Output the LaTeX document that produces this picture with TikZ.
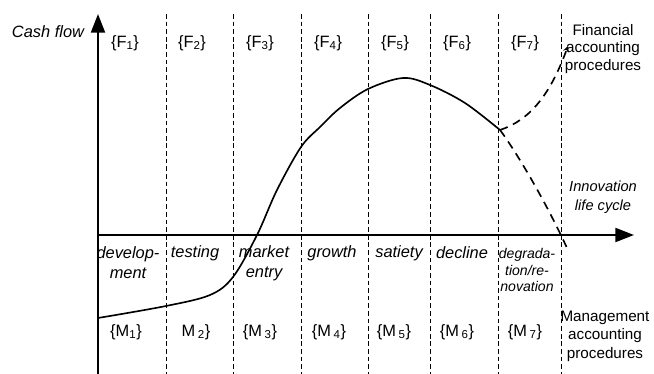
\documentclass[tikz,border=0pt]{standalone}
\usepackage{fontspec}
\setmainfont{Liberation Sans}
\usetikzlibrary{arrows.meta, positioning}

\begin{document}
\begin{tikzpicture}[x=0.03cm, y=-0.03cm,
  axis/.style={line width=1.8pt, -{Triangle[length=16pt, width=12pt]}},
  divider/.style={dash pattern=on 4pt off 2.5pt, line width=0.6pt},
  lifecurve/.style={line width=1.4pt},
  branch/.style={line width=1.4pt, dash pattern=on 7pt off 5pt},
  phase/.style={font=\fontsize{14}{16}\selectfont, inner sep=0pt},
  stage/.style={font=\fontsize{14}{17}\selectfont\itshape, align=center, inner sep=0pt},
  side/.style={font=\fontsize{13}{15}\selectfont, align=center, inner sep=0pt}
]
  \useasboundingbox (0,0) rectangle (654,374);

  % axes
  \coordinate (ybot) at (98,374);
  \coordinate (ytop) at (98,14);
  \coordinate (xorg) at (98,235);
  \coordinate (xend) at (634,235);
  \foreach \x in {166,233,301,368,430,498,561}
    \draw[divider] (\x,14) -- (\x,374);
  \draw[axis] (ybot) -- (ytop);
  \draw[axis] (xorg) -- (xend);
  \node[font=\fontsize{14}{16}\selectfont\itshape, inner sep=0pt] (cashflow) at (48,32) {Cash flow};

  % life cycle curve
  \coordinate (split) at (500,130);
  \draw[lifecurve] plot[smooth, tension=0.55] coordinates {(98,318) (166,306) (210,295) (233,277) (257,235) (277,190) (301,147) (320,127) (340,108) (368,89) (403,78) (430,85) (465,103) (500,130)};
  \coordinate (upend) at (568,46);
  \coordinate (downend) at (567,248);
  \draw[branch, -{Stealth[length=5pt, width=5pt]}] (split) .. controls (530,120) and (550,95) .. (upend);
  \draw[branch] (split) .. controls (515,150) and (545,200) .. (downend);

  % financial procedures
  \node[phase] (f1) at (125,43) {\{F\textsubscript{1}\}};
  \node[phase] (f2) at (192,43) {\{F\textsubscript{2}\}};
  \node[phase] (f3) at (260,43) {\{F\textsubscript{3}\}};
  \node[phase] (f4) at (328,43) {\{F\textsubscript{4}\}};
  \node[phase] (f5) at (395,43) {\{F\textsubscript{5}\}};
  \node[phase] (f6) at (457,43) {\{F\textsubscript{6}\}};
  \node[phase] (f7) at (525,43) {\{F\textsubscript{7}\}};

  % stages
  \node[stage] (dev) at (128,263) {develop-\\ment};
  \node[stage] (test) at (195,253) {testing};
  \node[stage] (entry) at (264,263) {market\\entry};
  \node[stage] (grow) at (332,253) {growth};
  \node[stage] (sat) at (399,253) {satiety};
  \node[stage] (dec) at (462,253) {decline};
  \node[stage, font=\fontsize{12}{14}\selectfont\itshape] (degr) at (527,270) {degrada-\\tion/re-\\novation};

  % management procedures
  \node[phase] (m1) at (126,332) {\{M\textsubscript{1}\}};
  \node[phase] (m2) at (196,332) {M\,\textsubscript{2}\}};
  \node[phase] (m3) at (260,332) {\{M\,\textsubscript{3}\}};
  \node[phase] (m4) at (329,332) {\{M\,\textsubscript{4}\}};
  \node[phase] (m5) at (394,332) {\{M\,\textsubscript{5}\}};
  \node[phase] (m6) at (457,332) {\{M\,\textsubscript{6}\}};
  \node[phase] (m7) at (525,332) {\{M\,\textsubscript{7}\}};

  % side labels
  \node[side] (fin) at (603,49) {Financial\\accounting\\procedures};
  \node[side, font=\fontsize{12.5}{16}\selectfont\itshape] (innov) at (603,197) {Innovation\\life cycle};
  \node[side, font=\fontsize{13}{15.7}\selectfont] (mgmt) at (605,336) {Management\\accounting\\procedures};
\end{tikzpicture}
\end{document}
